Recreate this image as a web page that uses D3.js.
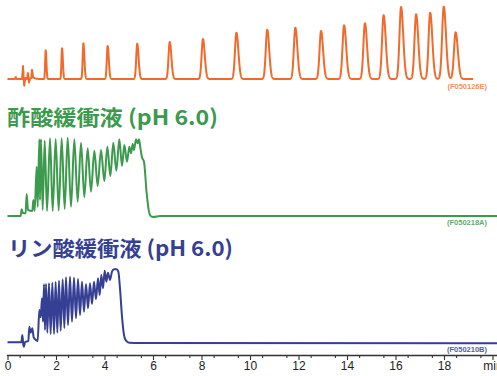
<!DOCTYPE html>
<html><head><meta charset="utf-8">
<script src="https://cdn.jsdelivr.net/npm/d3@7"></script>
<style>html,body{margin:0;padding:0;background:#fff;overflow:hidden}</style>
</head><body><svg id="c" width="497" height="376"></svg>
<script>
// ---- data (time in min, signal in arbitrary units) ----
const orangePeakTimes   = [1.575, 2.25, 3.13, 4.13, 5.35, 6.69, 8.06, 9.44, 10.71, 11.87, 12.93, 13.88, 14.74, 15.51, 16.23, 16.85, 17.43, 17.99, 18.48];
const orangePeakHeights = [28.7, 30.7, 35.7, 33, 35.3, 37, 40, 46.3, 49.3, 51.3, 48, 53.7, 55.7, 63.7, 72, 64.7, 66.3, 72.3, 46.7];
const orangePeakWidths  = [0.022, 0.025, 0.03, 0.035, 0.042, 0.05, 0.055, 0.06, 0.06, 0.062, 0.062, 0.064, 0.064, 0.066, 0.066, 0.066, 0.066, 0.068, 0.068];
const orangeNoise = [[0,0],[0.31,0],[0.34,2],[0.37,0],[0.6,0],[0.64,13],[0.67,-1],[0.69,-7],[0.73,1],[0.8,0],[0.845,6],[0.887,-3.5],[0.93,0.5],[0.98,1],[1.01,9.5],[1.06,1.5],[1.15,0.5],[1.3,0],[19.2,0]];
const orangeEnd = 19.2;

const acetateTrace = [[0,0],[0.543,0],[0.584,6.7],[0.625,3.3],[0.749,2.7],[0.79,22],[0.845,6],[1.024,5],[1.065,16],[1.12,5.3],
 [1.203,49.3],[1.244,9.3],[1.313,76.7],[1.34,16],[1.381,76.7],[1.45,6],[1.533,75.3],[1.629,5],[1.753,77.7],[1.863,5],
 [1.986,77],[2.11,5.3],[2.234,77.7],[2.357,7],[2.481,78.3],[2.619,9.3],[2.756,76.7],[2.893,14.3],[3.031,73.3],[3.168,18.7],
 [3.306,67.7],[3.443,24.3],[3.581,65.3],[3.718,30],[3.856,66],[3.993,35],[4.117,69.3],[4.241,40],[4.364,73.3],[4.488,45.3],
 [4.612,76.7],[4.722,50],[4.818,71],[4.928,54.3],[5.024,69.3],[5.093,62.7],[5.162,72],[5.216,66],[5.299,76.7],[5.368,72.7],
 [5.423,76.7],[5.491,66],[5.546,58.7],[5.629,54.3],[5.739,22.7],[5.835,4.3],[5.904,0],[6.014,-1],[6.289,0],[20.2,0]];

const phosphateTrace = [[0,0.2],[0.571,0.2],[0.612,7.5],[0.653,-2.5],[0.68,-4.2],[0.722,0.5],[0.859,1.5],[0.9,15.8],[0.955,9.8],[1.024,14.2],
 [1.079,5.2],[1.175,2.5],[1.244,1.5],[1.313,32.5],[1.368,25.2],[1.423,44.2],[1.464,20.8],[1.505,58.2],[1.546,12.5],[1.588,58.5],
 [1.643,9.8],[1.711,59.2],[1.78,8.5],[1.849,59.8],[1.918,8.5],[1.986,60.5],[2.055,9.8],[2.124,61.8],[2.192,11.8],[2.275,63.2],
 [2.344,14.5],[2.412,65.2],[2.495,17.5],[2.577,65.8],[2.66,20.8],[2.742,64.8],[2.825,24.2],[2.907,63.5],[2.99,27.5],[3.072,60.8],
 [3.155,30.8],[3.237,58.5],[3.32,34.2],[3.402,59.2],[3.485,38.5],[3.567,60.8],[3.649,43.2],[3.732,64.2],[3.801,47.5],[3.869,67.5],
 [3.938,54.2],[4.007,71.8],[4.076,60.8],[4.144,69.8],[4.227,62.5],[4.309,70.8],[4.392,73.2],[4.502,73.2],[4.57,70.8],[4.639,54.2],
 [4.722,25.8],[4.804,7.5],[4.887,1.8],[5.024,-0.2],[5.464,-0.5],[20.2,-0.8]];

const majorTicks = [0,2,4,6,8,10,12,14,16,18,20];
const tickLabels = ["0","2","4","6","8","10","12","14","16","18","min"];
const minorTicks = d3.range(0.5, 20.01, 1);
const titles = ["酢酸緩衝液 (pH 6.0)", "リン酸緩衝液 (pH 6.0)"];
const sampleIds = ["(F050126E)", "(F050218A)", "(F050210B)"];

// ---- styles ----
const cOrange = "#f26a2b", cGreen = "#3b9a4b", cBlue = "#353f94";

const svg = d3.select("#c");
const x = d3.scaleLinear().domain([0, 20]).range([7.5, 492.5]);
const yO = d3.scaleLinear().domain([0, 80]).range([79, -1]);
const yG = d3.scaleLinear().domain([0, 80]).range([216, 136]);
const yB = d3.scaleLinear().domain([0, 80]).range([342.5, 262.5]);

// orange chromatogram from peak table
const noiseAt = t => {
  for (let i = 1; i < orangeNoise.length; i++) {
    const a = orangeNoise[i-1], b = orangeNoise[i];
    if (t <= b[0]) return a[1] + (b[1]-a[1]) * (t-a[0])/(b[0]-a[0]);
  }
  return 0;
};
const orangeSignal = t => {
  let s = noiseAt(t);
  orangePeakTimes.forEach((pt, i) => {
    const w = t < pt ? orangePeakWidths[i] : orangePeakWidths[i] * 1.35;
    s += orangePeakHeights[i] * Math.exp(-0.5 * ((t - pt) / w) ** 2);
  });
  return s;
};
const orangePts = d3.range(0, orangeEnd + 1e-9, 0.004).map(t => [t, orangeSignal(t)]);

const lineO = d3.line().x(d => x(d[0])).y(d => yO(d[1]));
const lineG = d3.line().x(d => x(d[0])).y(d => yG(d[1])).curve(d3.curveMonotoneX);
const lineB = d3.line().x(d => x(d[0])).y(d => yB(d[1])).curve(d3.curveMonotoneX);

svg.append("path").attr("d", lineO(orangePts)).attr("fill", "none")
  .attr("stroke", cOrange).attr("stroke-width", 2).attr("stroke-linejoin", "round");
svg.append("path").attr("d", lineG(acetateTrace)).attr("fill", "none")
  .attr("stroke", cGreen).attr("stroke-width", 2).attr("stroke-linejoin", "round");
svg.append("path").attr("d", lineB(phosphateTrace)).attr("fill", "none")
  .attr("stroke", cBlue).attr("stroke-width", 2).attr("stroke-linejoin", "round");

// titles
svg.append("text").text(titles[0]).attr("x", 7).attr("y", 124.5)
  .attr("font-family", "'Noto Sans CJK JP', sans-serif").attr("font-weight", 700)
  .attr("font-size", 21).attr("fill", cGreen)
  .attr("textLength", 211).attr("lengthAdjust", "spacingAndGlyphs");
svg.append("text").text(titles[1]).attr("x", 8).attr("y", 255.5)
  .attr("font-family", "'Noto Sans CJK JP', sans-serif").attr("font-weight", 700)
  .attr("font-size", 21).attr("fill", cBlue)
  .attr("textLength", 225).attr("lengthAdjust", "spacingAndGlyphs");

// sample ids
const idStyle = [[cOrange, 89, 0.75], [cGreen, 224.5, 0.8], [cBlue, 352, 0.85]];
sampleIds.forEach((s, i) => {
  svg.append("text").text(s).attr("x", 487).attr("y", idStyle[i][1])
    .attr("text-anchor", "end").attr("font-family", "'Liberation Sans', Arial, sans-serif")
    .attr("font-weight", 700).attr("font-size", 7.5).attr("fill", idStyle[i][0])
    .attr("opacity", idStyle[i][2]);
});

// axis
const axisY = 355.5;
const gMinor = svg.append("g").attr("transform", `translate(0,${axisY})`)
  .call(d3.axisBottom(x).tickValues(minorTicks).tickSize(2.5).tickSizeOuter(0).tickFormat(""));
gMinor.select(".domain").remove();
const gMajor = svg.append("g").attr("transform", `translate(0,${axisY})`)
  .call(d3.axisBottom(x).tickValues(majorTicks).tickSize(4.5).tickSizeOuter(0).tickPadding(1.5)
    .tickFormat((d, i) => tickLabels[i]));
gMajor.select(".domain").remove();
svg.append("line").attr("x1", x(0) - 0.5).attr("x2", 497).attr("y1", axisY).attr("y2", axisY)
  .attr("stroke", "#333").attr("stroke-width", 1.3);
svg.selectAll(".tick line").attr("stroke", "#333").attr("stroke-width", 1.1);
gMajor.selectAll(".tick text").attr("font-family", "'Liberation Sans', Arial, sans-serif")
  .attr("font-size", 12).attr("fill", "#222");
</script></body></html>
